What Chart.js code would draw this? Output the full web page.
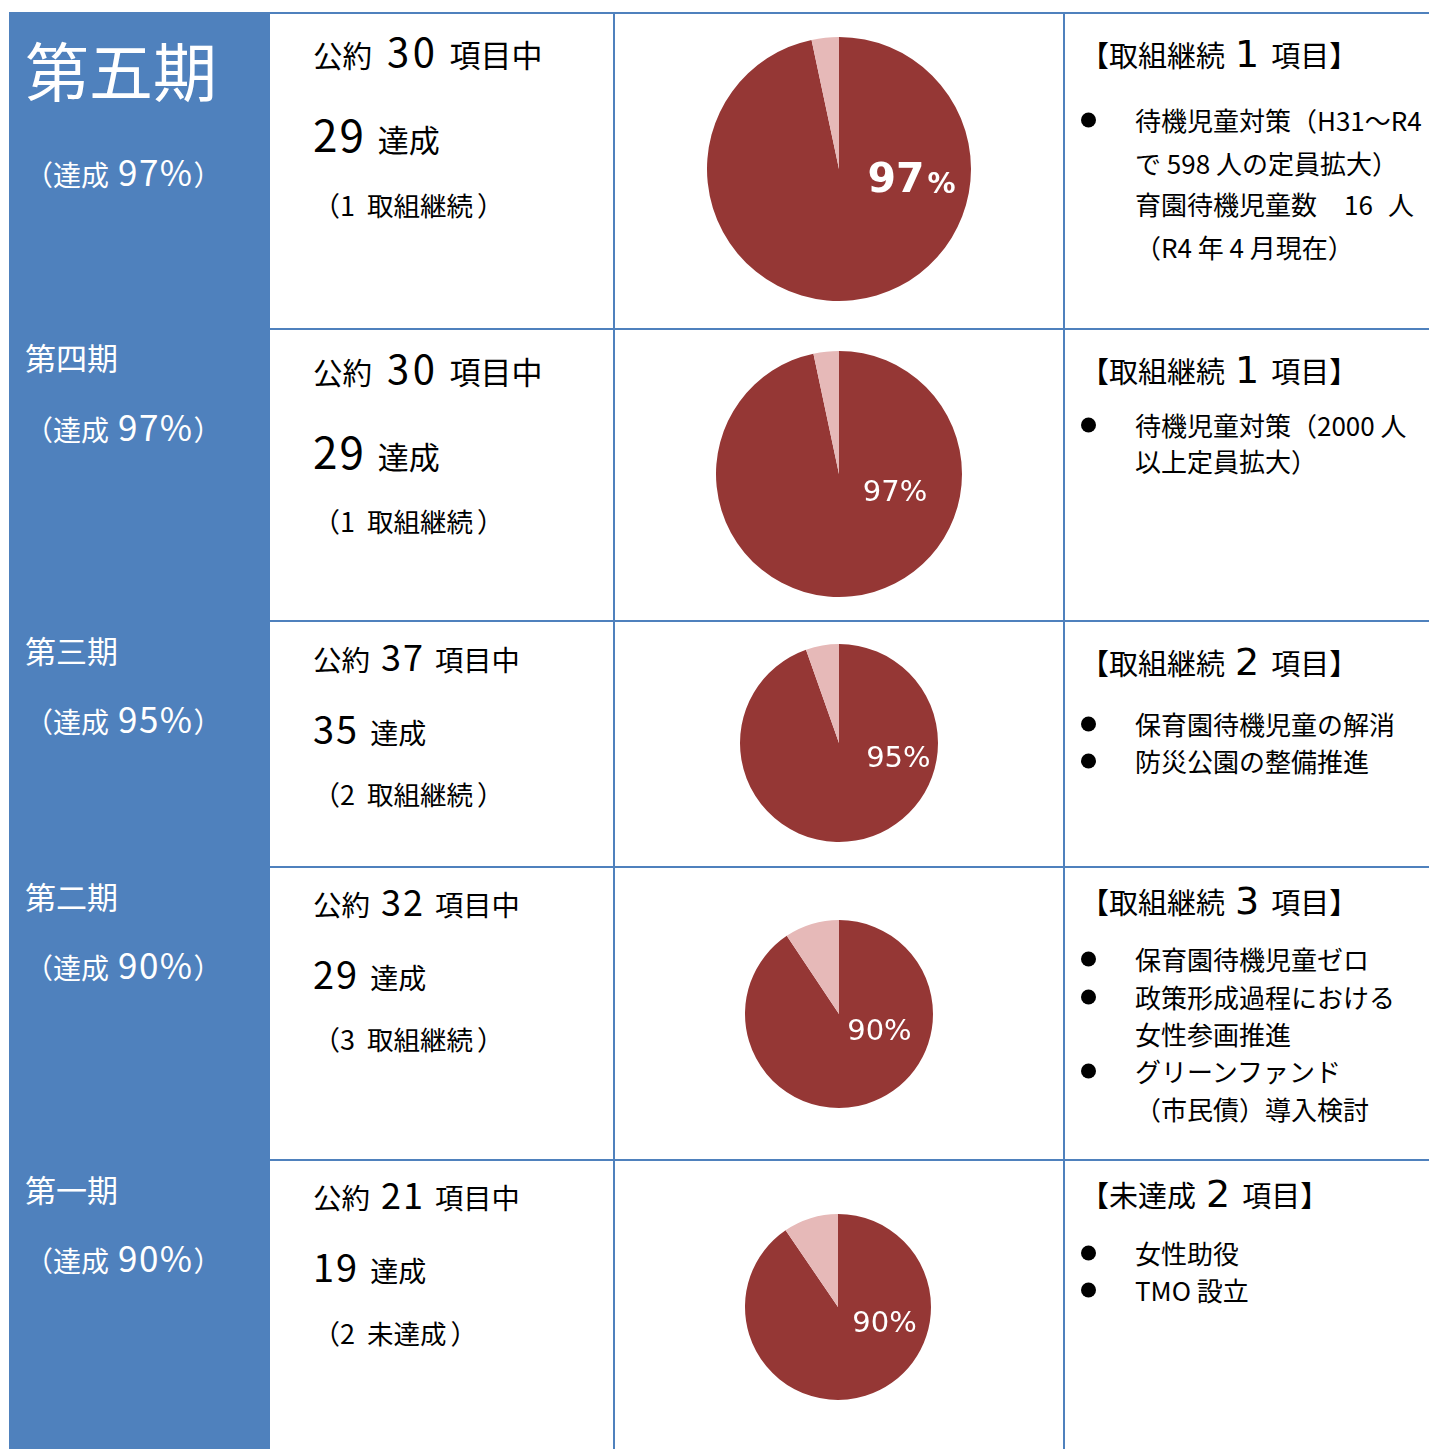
<!DOCTYPE html>
<html lang="ja">
<head>
<meta charset="utf-8">
<script src="https://cdn.jsdelivr.net/npm/chart.js@4.4.1/dist/chart.umd.min.js"></script>
<style>
  html, body { margin: 0; padding: 0; background: #fff; }
  #page { position: relative; width: 1429px; height: 1449px; overflow: hidden; background: #fff;
          font-family: "Noto Sans CJK JP", "Noto Sans", sans-serif; color: #000; }
  .t { position: absolute; white-space: nowrap; line-height: 1; transform: translateY(-50%); font-size: 0; }
  .t span { display: inline-block; line-height: 1; }
  .w { color: #fff; }
  .bar { position: absolute; background: #4f81bd; }
  .dot { position: absolute; width: 15px; height: 15px; border-radius: 50%; background: #000; transform: translateY(-50%); }
  canvas { position: absolute; }
</style>
</head>
<body>
<div id="page"></div>
<script>
// データ
const periods = ['第五期', '第四期', '第三期', '第二期', '第一期'];
const pledged = [30, 30, 37, 32, 21];
const achieved = [29, 29, 35, 29, 19];
const remaining = [1, 1, 2, 3, 2];
const remainingKind = ['取組継続', '取組継続', '取組継続', '取組継続', '未達成'];
const rates = [97, 97, 95, 90, 90];
const notes = [
  [['●', '待機児童対策（H31～R4'], ['', 'で 598 人の定員拡大）'], ['', '育園待機児童数|16|人'], ['', '（R4 年 4 月現在）']],
  [['●', '待機児童対策（2000 人'], ['', '以上定員拡大）']],
  [['●', '保育園待機児童の解消'], ['●', '防災公園の整備推進']],
  [['●', '保育園待機児童ゼロ'], ['●', '政策形成過程における'], ['', '女性参画推進'], ['●', 'グリーンファンド'], ['', '（市民債）導入検討']],
  [['●', '女性助役'], ['●', 'TMO 設立']]
];

// レイアウト（位置だけ）
const rowLines = [13, 329, 621, 867, 1160];
const colLines = [613, 1063];
const pieGeom = [[839, 169, 132], [839, 474, 123], [839, 743, 99], [839, 1014, 94], [838, 1307, 93]];
const labelOffset = [[0.55, 0.07], [0.455, 0.13], [0.6, 0.14], [0.43, 0.16], [0.5, 0.16]];
const titleY = [68, 356, 649, 895, 1188];
const rateY = [170, 425, 717, 963, 1256];
const col2Y = [[50, 133, 205], [367, 450, 521], [655, 728, 794], [900, 973, 1039], [1193, 1266, 1333]];
const headY = [54, 370, 662, 901, 1194];
const noteY = [[120, 163, 204, 247], [425, 461], [724, 761], [959, 997, 1034, 1071, 1109], [1253, 1290]];

const DARK = '#953735';
const LIGHT = '#e6b9b8';

const page = document.getElementById('page');

function box(cls, x, y, w, h) {
  const d = document.createElement('div');
  d.className = cls;
  d.style.left = x + 'px'; d.style.top = y + 'px';
  if (w != null) d.style.width = w + 'px';
  if (h != null) d.style.height = h + 'px';
  page.appendChild(d);
  return d;
}
function put(x, y, html, cls) {
  const d = box('t' + (cls ? ' ' + cls : ''), x, y);
  d.innerHTML = html;
  return d;
}
const sp = (size, txt, extra) => `<span style="font-size:${size}px;${extra || ''}">${txt}</span>`;

// 表の枠
box('bar', 9, 13, 261, 1449 - 13);
rowLines.forEach(y => box('bar', 9, y - 1, 1429 - 9, 2));
colLines.forEach(x => box('bar', x, 13, 2, 1449 - 13));

// 左列
periods.forEach((p, i) => {
  put(25, titleY[i], sp(i === 0 ? 64 : 31, p), 'w');
  put(25, rateY[i], sp(28, '（達成') + sp(35, rates[i] + '%', 'margin-left:9px;letter-spacing:1.5px') + sp(28, '）'), 'w');
});

// 二列目
periods.forEach((p, i) => {
  const big = i < 2;
  put(313, col2Y[i][0],
    sp(big ? 29.5 : 28.5, '公約') +
    sp(big ? 40 : 36, pledged[i], `margin-left:${big ? 15 : 11}px;letter-spacing:${big ? 3.5 : 2}px`) +
    sp(big ? 31 : 28.3, '項目中', `margin-left:${big ? 11 : 10}px`));
  put(313, col2Y[i][1],
    sp(big ? 44 : 38, achieved[i], 'letter-spacing:2px') +
    sp(big ? 31 : 28, '達成', `margin-left:${big ? 12 : 11}px`));
  put(313, col2Y[i][2],
    sp(27, '（' + remaining[i]) +
    sp(26.5, remainingKind[i], 'margin-left:12px') +
    sp(27, '）', 'margin-left:4px'));
});

// 右列
periods.forEach((p, i) => {
  put(1080, headY[i], sp(29, '【' + remainingKind[i]) +
    sp(38, remaining[i], "font-family:'DejaVu Sans';margin:0 12px 0 10px") + sp(29, '項目】'));
  notes[i].forEach((n, k) => {
    if (n[0]) box('dot', 1081, noteY[i][k]);
    const parts = n[1].split('|');
    let html = sp(26, parts[0]);
    if (parts.length > 1) {
      html += sp(26, parts[1], 'margin-left:27px') + sp(26, parts[2], 'margin-left:15px');
    }
    put(1135, noteY[i][k], html);
  });
});

// 円グラフ
const pieLabel = {
  id: 'pieLabel',
  afterDatasetsDraw(chart, args, opts) {
    const arc = chart.getDatasetMeta(0).data[0];
    const r = arc.outerRadius;
    const x = arc.x + opts.off[0] * r;
    const y = arc.y + opts.off[1] * r + 3;
    const c = chart.ctx;
    c.save();
    c.fillStyle = '#fff';
    c.textBaseline = 'middle';
    if (opts.bold) {
      c.font = 'bold 41px "DejaVu Sans"';
      const w1 = c.measureText(opts.num).width;
      c.font = 'bold 28px "DejaVu Sans"';
      const w2 = c.measureText('%').width;
      const x0 = x - (w1 + w2 + 3) / 2;
      c.textAlign = 'left';
      c.font = 'bold 41px "DejaVu Sans"';
      c.fillText(opts.num, x0, y);
      c.font = 'bold 28px "DejaVu Sans"';
      c.fillText('%', x0 + w1 + 3, y + 4);
    } else {
      c.font = '29px "DejaVu Sans"';
      c.textAlign = 'center';
      c.fillText(opts.num + '%', x, y);
    }
    c.restore();
  }
};

pieGeom.forEach((g, i) => {
  const [cx, cy, r] = g;
  const cv = document.createElement('canvas');
  cv.width = 2 * r + 4; cv.height = 2 * r + 4;
  cv.style.left = (cx - r - 2) + 'px';
  cv.style.top = (cy - r - 2) + 'px';
  page.appendChild(cv);
  new Chart(cv, {
    type: 'pie',
    data: {
      labels: ['達成', remainingKind[i]],
      datasets: [{
        data: [achieved[i], remaining[i]],
        backgroundColor: [DARK, LIGHT],
        borderWidth: 0
      }]
    },
    options: {
      responsive: false,
      animation: false,
      devicePixelRatio: 1,
      layout: { padding: 2 },
      plugins: {
        legend: { display: false },
        tooltip: { enabled: false },
        pieLabel: { off: labelOffset[i], num: String(rates[i]), bold: i === 0 }
      }
    },
    plugins: [pieLabel]
  });
});
</script>
</body>
</html>
